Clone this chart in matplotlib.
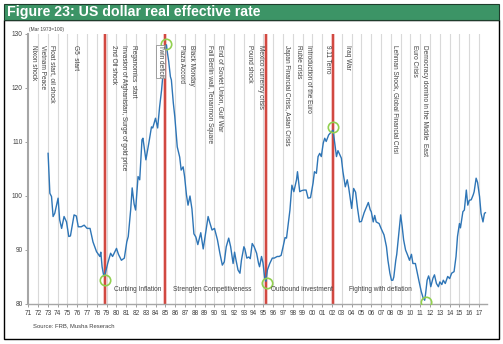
import matplotlib
matplotlib.use('Agg')
import matplotlib.pyplot as plt
from matplotlib.patches import Rectangle

# dollar index (Mar 1973=100)
years = [1973.02, 1973.2, 1973.37, 1973.53, 1973.7, 1974.04, 1974.2, 1974.4, 1974.65, 1974.9,
         1975.13, 1975.3, 1975.67, 1975.9, 1976.1, 1976.4, 1976.7, 1977.0, 1977.3, 1977.6,
         1977.96, 1978.3, 1978.4, 1978.53, 1978.7, 1978.85, 1979.1, 1979.4, 1979.6, 1980.0,
         1980.2, 1980.5, 1980.8, 1981.05, 1981.2, 1981.45, 1981.6, 1981.8, 1981.95, 1982.2,
         1982.37, 1982.6, 1982.7, 1983.0, 1983.3, 1983.57, 1983.7, 1983.98, 1984.2, 1984.4,
         1984.6, 1984.75, 1984.85, 1984.95, 1985.1, 1985.2, 1985.33, 1985.5, 1985.6, 1985.8,
         1985.95, 1986.2, 1986.45, 1986.6, 1986.8, 1986.95, 1987.14, 1987.3, 1987.5, 1987.7,
         1987.9, 1988.1, 1988.3, 1988.6, 1988.85, 1989.1, 1989.35, 1989.5, 1989.75, 1990.0,
         1990.3, 1990.55, 1990.8, 1991.0, 1991.2, 1991.45, 1991.65, 1991.9, 1992.05, 1992.2,
         1992.4, 1992.6, 1992.75, 1993.0, 1993.1, 1993.3, 1993.5, 1993.65, 1993.85, 1994.05,
         1994.3, 1994.5, 1994.6, 1994.8, 1994.95, 1995.13, 1995.25, 1995.4, 1995.64, 1995.9,
         1996.1, 1996.4, 1996.6, 1996.8, 1997.0, 1997.2, 1997.35, 1997.5, 1997.7, 1997.9,
         1998.1, 1998.37, 1998.47, 1998.7, 1998.9, 1999.14, 1999.35, 1999.55, 1999.8, 2000.06,
         2000.2, 2000.4, 2000.57, 2000.74, 2000.9, 2001.1, 2001.25, 2001.4, 2001.65, 2001.93,
         2002.1, 2002.27, 2002.45, 2002.6, 2002.8, 2002.95, 2003.1, 2003.35, 2003.55, 2003.7,
         2003.83, 2004.0, 2004.2, 2004.4, 2004.6, 2004.8, 2005.0, 2005.27, 2005.5, 2005.7,
         2005.9, 2006.0, 2006.2, 2006.35, 2006.5, 2006.8, 2007.0, 2007.3, 2007.55, 2007.7,
         2007.9, 2008.06, 2008.2, 2008.3, 2008.5, 2008.6, 2008.8, 2009.0, 2009.15, 2009.3,
         2009.5, 2009.7, 2009.9, 2010.1, 2010.25, 2010.5, 2010.6, 2010.85, 2011.1, 2011.3,
         2011.45, 2011.55, 2011.7, 2011.85, 2011.95, 2012.07, 2012.3, 2012.45, 2012.65, 2012.85,
         2013.0, 2013.2, 2013.35, 2013.55, 2013.8, 2014.0, 2014.2, 2014.45, 2014.65, 2014.8,
         2015.0, 2015.1, 2015.35, 2015.5, 2015.7, 2015.85, 2016.0, 2016.2, 2016.4, 2016.5,
         2016.7, 2016.85, 2017.05, 2017.2, 2017.4, 2017.55, 2017.65]
index_values = [107.9, 100.5, 99.9, 96.2, 96.8, 99.6, 95.6, 94.0, 96.2, 95.2,
                92.5, 92.6, 96.5, 96.3, 94.3, 94.3, 94.6, 94.0, 94.0, 91.5,
                89.7, 88.8, 89.6, 86.9, 85.2, 85.6, 87.5, 89.4, 88.8, 90.3,
                89.2, 88.1, 88.5, 91.5, 92.5, 97.5, 101.5, 98.5, 97.4, 103.6,
                103.0, 110.4, 110.7, 106.7, 109.8, 112.8, 112.6, 114.4, 112.6, 116.5,
                119.6, 122.7, 123.9, 127.0, 128.0, 126.5, 124.9, 122.1, 121.5, 117.2,
                114.7, 109.1, 107.2, 104.8, 105.4, 103.6, 100.2, 98.3, 100.0, 97.6,
                93.0, 92.4, 91.0, 93.2, 90.2, 93.2, 96.2, 95.2, 93.7, 94.0,
                91.9, 89.4, 87.2, 87.8, 90.6, 92.2, 90.6, 87.5, 89.6, 88.1,
                86.3, 85.7, 88.1, 90.6, 90.2, 88.5, 88.7, 88.4, 91.2, 90.6,
                89.4, 87.5, 86.9, 88.8, 87.6, 84.8, 84.2, 86.3, 87.5, 88.5,
                88.5, 88.8, 88.8, 89.0, 90.6, 92.3, 92.2, 94.5, 97.4, 102.0,
                100.8, 103.0, 104.5, 100.8, 101.0, 101.1, 101.1, 99.6, 99.7, 102.4,
                104.5, 104.2, 107.3, 107.9, 107.3, 109.8, 110.7, 110.1, 111.3, 111.9,
                112.2, 109.8, 107.3, 108.4, 107.6, 107.0, 104.6, 101.7, 103.0, 101.5,
                99.9, 97.7, 101.4, 100.7, 97.7, 95.2, 95.3, 96.9, 97.9, 98.8,
                97.4, 97.1, 95.2, 96.4, 95.2, 94.9, 94.0, 92.8, 90.6, 88.1,
                85.7, 84.4, 84.4, 85.0, 88.1, 89.2, 92.8, 96.5, 94.4, 91.9,
                90.0, 89.1, 88.1, 89.2, 87.5, 87.5, 86.6, 84.4, 82.3, 81.1,
                80.7, 82.0, 84.4, 85.2, 84.6, 83.2, 84.8, 85.4, 83.8, 83.2,
                84.1, 83.6, 84.4, 83.8, 85.1, 84.7, 85.7, 86.0, 88.8, 92.5,
                94.9, 94.1, 97.1, 97.4, 101.1, 98.3, 99.2, 99.3, 100.2, 100.8,
                103.3, 102.5, 99.9, 96.8, 95.2, 96.8, 96.9]

# vertical event labels
event_years = [1971.5, 1972.5, 1973.5, 1975.8, 1979.7, 1980.7, 1981.7, 1984.5, 1986.6,
               1987.7, 1989.5, 1990.6, 1993.6, 1994.7, 1997.4, 1998.6, 1999.6, 2001.5,
               2003.6, 2008.5, 2010.4, 2011.4]
event_labels = ['Nixon shock', 'Vietnam Peace', 'Float start, oil shock', 'G5  start',
                '2nd Oil shock', 'Invasion of Afghanistan, Surge of gold price',
                'Reganomics  start', 'Twin deficit', 'Plaza Accord', 'Black Monday',
                'Fall Berlin wall, Tenanmon Square', 'End of Soviet Union, Gulf War',
                'Pound shock', 'Mexico currency crisis', 'Japan Financial Crisis, Asian Crisis',
                'Ruble crisis', 'Introduction of the Euro', '9.11 Terro', 'Iraq War',
                'Lehman Shock, Global Financial Crisi', 'Euro Crisis',
                'Democracy domino in the Middle  East']

# policy regimes
regime_breaks = [1978.8, 1985.0, 1995.3, 2002.05]
regime_years = [1979.7, 1985.8, 1995.8, 2003.75]
regime_labels = ['Curbing Inflation', 'Strengten Competitiveness', 'Outbound investment',
                 'Fighting with deflation']

# turning points
turn_years = [1978.85, 1985.1, 1995.35, 2002.1, 2011.55]
turn_values = [84.4, 128.1, 83.9, 112.8, 80.4]

tick_years = list(range(1971, 2018))
tick_labels = ['%02d' % (y % 100) for y in tick_years]

txt_color = '#404040'
fam = ['Liberation Sans', 'DejaVu Sans']

fig = plt.figure(figsize=(5.03, 3.44), dpi=100)
W, H = 503.0, 344.0

# frame and title bar
fig.add_artist(Rectangle((4 / W, 1 - 339 / H), 495 / W, 319 / H, transform=fig.transFigure,
                         fill=False, ec='black', lw=1.0))
fig.add_artist(Rectangle((4 / W, 1 - 20 / H), 495 / W, 16 / H, transform=fig.transFigure,
                         fc='#3c9466', ec='#1e3d2c', lw=0.8))
fig.text(7 / W, 1 - 12 / H, 'Figure 23: US dollar real effective rate', color='white',
         fontsize=10.2, fontweight='bold', va='center', ha='left',
         family=['Liberation Sans Narrow', 'Liberation Sans', 'DejaVu Sans'])

ax = fig.add_axes([28.3 / W, 1 - 304 / H, (486.9 - 28.3) / W, 270 / H])
ax.set_xlim(1971.0, 2017.8)
ax.set_ylim(80, 130)

for y in tick_years[1:]:
    ax.axvline(y, color='#d9d9d9', lw=0.8, zorder=0)
for x in regime_breaks:
    ax.axvline(x, color='#f2b8b8', lw=2.6, zorder=1)
    ax.axvline(x, color='#c8281e', lw=1.1, zorder=1)

ax.plot(years, index_values, color='#2e75b6', lw=1.0, zorder=3)
ax.plot(turn_years, turn_values, 'o', ms=7.5, mfc='none', mec='#92d050', mew=1.2, zorder=4)

for x, lab in zip(event_years, event_labels):
    kw = {}
    if lab == 'Twin deficit':
        kw['bbox'] = dict(boxstyle='square,pad=0.1', fc='white', ec='#808080', lw=0.5)
    ax.text(x, 127.9, lab, rotation=-90, va='top', ha='center', fontsize=4.7,
            color=txt_color, family=fam, zorder=5, **kw)

for x, lab in zip(regime_years, regime_labels):
    ax.text(x, 82.6, lab, ha='left', va='center', fontsize=4.7, color=txt_color,
            family=fam, zorder=5)

ax.set_xticks(tick_years)
ax.set_xticklabels(tick_labels)
ax.set_yticks([80, 90, 100, 110, 120, 130])
ax.tick_params(axis='both', labelsize=4.7, colors='#a0a0a0', labelcolor=txt_color,
               length=2.5, width=0.7, pad=1.5)
for lab in ax.get_xticklabels() + ax.get_yticklabels():
    lab.set_family(fam)

for side in ['top', 'right']:
    ax.spines[side].set_visible(False)
ax.spines['left'].set_color('#a6a6a6')
ax.spines['left'].set_linewidth(1.5)
ax.spines['bottom'].set_color('#a6a6a6')
ax.spines['bottom'].set_linewidth(1.0)

fig.text(29 / W, 1 - 29 / H, '(Mar 1973=100)', fontsize=3.5, color=txt_color,
         va='center', ha='left', family=fam)
fig.text(33 / W, 1 - 326 / H, 'Source: FRB, Musha Reserach', fontsize=4.2, color=txt_color,
         va='center', ha='left', family=fam)

fig.savefig('out.png', dpi=100)
